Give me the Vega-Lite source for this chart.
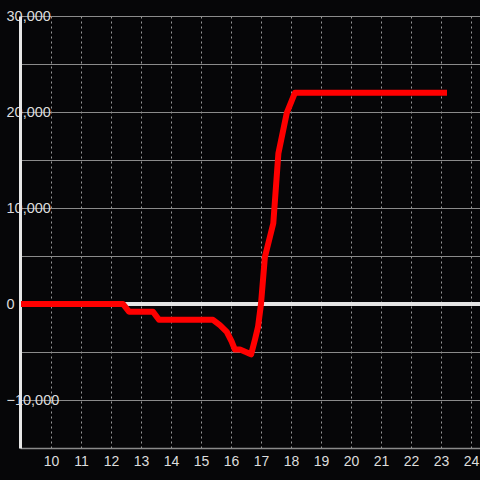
{
  "$schema": "https://vega.github.io/schema/vega-lite/v6.json",
  "width": 460,
  "height": 432,
  "autosize": "none",
  "padding": {"left": 20, "top": 16, "right": 0, "bottom": 32},
  "background": "#060608",
  "config": {
    "view": {"stroke": null},
    "axis": {
      "labelFont": "Liberation Sans",
      "labelFontSize": 14,
      "labelColor": "#dddddd",
      "labelFlush": false,
      "labelOverlap": false,
      "ticks": false,
      "title": null
    }
  },
  "data": {
    "values": [
      {"t": 9.0, "v": 0},
      {"t": 12.4, "v": 0},
      {"t": 12.6, "v": -800},
      {"t": 13.4, "v": -800},
      {"t": 13.6, "v": -1650},
      {"t": 15.4, "v": -1650},
      {"t": 15.63, "v": -2200},
      {"t": 15.86, "v": -2900},
      {"t": 16.02, "v": -3900},
      {"t": 16.13, "v": -4750},
      {"t": 16.3, "v": -4750},
      {"t": 16.57, "v": -5100},
      {"t": 16.67, "v": -5250},
      {"t": 16.8, "v": -3700},
      {"t": 16.9, "v": -2400},
      {"t": 17.0, "v": 0},
      {"t": 17.13, "v": 4900},
      {"t": 17.41, "v": 8400},
      {"t": 17.58, "v": 15700},
      {"t": 17.86, "v": 19900},
      {"t": 18.13, "v": 22000},
      {"t": 23.2, "v": 22000}
    ]
  },
  "layer": [
    {
      "mark": {"type": "rule", "color": "#e6e6e6", "strokeWidth": 3},
      "encoding": {
        "y": {"datum": 0, "type": "quantitative"}
      }
    },
    {
      "mark": {"type": "line", "color": "#ff0000", "strokeWidth": 6, "strokeJoin": "round"},
      "encoding": {
        "x": {
          "field": "t",
          "type": "quantitative",
          "scale": {"domain": [8.967, 24.3], "nice": false, "zero": false},
          "axis": {
            "values": [10, 11, 12, 13, 14, 15, 16, 17, 18, 19, 20, 21, 22, 23, 24],
            "grid": true,
            "gridColor": "#9a9a9a",
            "gridDash": [2, 3],
            "gridWidth": 1,
            "domainColor": "#8a8a8a",
            "domainWidth": 1.5,
            "labelPadding": 6,
            "labelFontSize": 14
          }
        },
        "y": {
          "field": "v",
          "type": "quantitative",
          "scale": {"domain": [-15000, 30000], "nice": false},
          "axis": {
            "values": [-10000, -5000, 0, 5000, 10000, 15000, 20000, 25000, 30000],
            "labelExpr": "datum.value % 10000 === 0 ? format(datum.value, ',') : ''",
            "grid": true,
            "gridColor": "#8a8a8a",
            "gridWidth": 1,
            "domainColor": "#e6e6e6",
            "domainWidth": 3,
            "labelAlign": "left",
            "labelPadding": 14,
            "labelFontSize": 14.5
          }
        }
      }
    }
  ]
}
